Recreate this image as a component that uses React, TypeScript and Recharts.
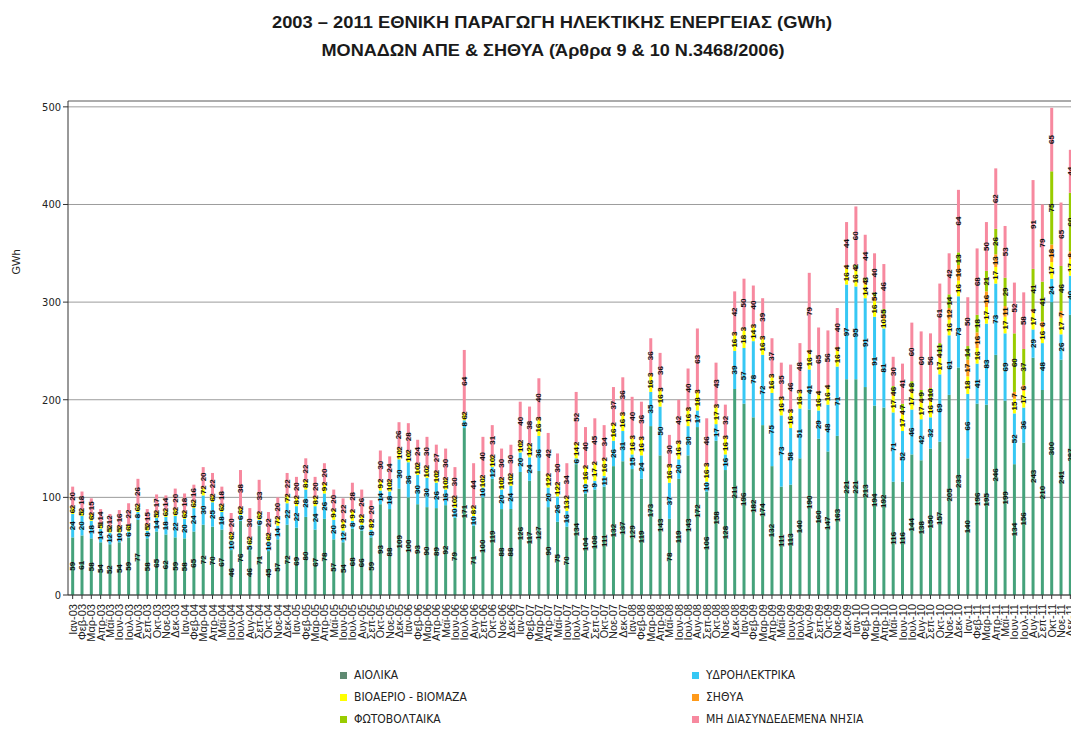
import React from "react";
import {
  BarChart,
  Bar,
  XAxis,
  YAxis,
  CartesianGrid,
  ReferenceLine,
  LabelList,
} from "recharts";

const monthNames = ["Ιαν", "Φεβ", "Μαρ", "Απρ", "Μαϊ", "Ιουν", "Ιουλ", "Αυγ", "Σεπ", "Οκτ", "Νοε", "Δεκ"];
const yearCodes = ["03", "04", "05", "06", "07", "08", "09", "10", "11"];

// GWh per month, Jan-03 .. Dec-11
const wind = [
  59, 61, 58, 54, 52, 54, 59, 77, 58, 65, 62, 59,
  58, 65, 72, 70, 67, 46, 76, 46, 71, 45, 57, 72,
  69, 80, 67, 78, 57, 54, 68, 66, 59, 93, 88, 109,
  100, 93, 90, 89, 92, 79, 171, 71, 100, 119, 88, 88,
  126, 117, 127, 90, 75, 70, 134, 104, 108, 111, 132, 137,
  129, 119, 173, 143, 78, 119, 143, 172, 106, 158, 128, 211,
  196, 182, 174, 132, 111, 113, 140, 190, 160, 147, 163, 221,
  221, 213, 194, 192, 116, 116, 144, 138, 150, 157, 205, 233,
  140, 196, 195, 246, 199, 134, 156, 243, 210, 300, 241, 287,
];
const hydro = [
  24, 20, 18, 14, 12, 10, 6, 8, 8, 14, 18, 22,
  20, 24, 30, 25, 18, 10, 6, 5, 6, 10, 14, 22,
  22, 28, 24, 26, 20, 12, 8, 6, 8, 14, 18, 30,
  36, 30, 30, 26, 16, 10, 8, 10, 10, 12, 20, 24,
  20, 24, 36, 20, 26, 16, 6, 10, 9, 11, 26, 31,
  15, 24, 35, 50, 37, 20, 30, 17, 10, 17, 16, 39,
  57, 78, 72, 75, 73, 58, 51, 41, 29, 48, 71, 97,
  95, 91, 91, 81, 71, 52, 46, 42, 32, 69, 61, 73,
  66, 41, 83, 73, 69, 52, 36, 29, 48, 24, 26, 40,
];
const biomass = [
  6, 5, 6, 5, 5, 5, 6, 6, 5, 5, 6, 6,
  6, 6, 7, 6, 6, 6, 6, 6, 6, 6, 7, 7,
  8, 8, 8, 9, 9, 9, 9, 8, 8, 9, 10, 10,
  10, 10, 10, 10, 10, 10, 6, 8, 10, 10, 10, 10,
  10, 12, 16, 12, 12, 13, 14, 16, 17, 16, 16, 16,
  16, 16, 16, 16, 16, 16, 16, 18, 16, 17, 16, 16,
  18, 14, 16, 16, 16, 16, 16, 16, 16, 16, 16, 16,
  16, 14, 16, 10, 17, 17, 17, 17, 16, 17, 16, 16,
  18, 16, 17, 17, 17, 15, 17, 17, 16, 17, 17, 17,
];
const chp = [
  2, 2, 2, 1, 2, 2, 1, 2, 2, 2, 2, 2,
  2, 2, 2, 2, 2, 2, 2, 2, 2, 2, 2, 2,
  2, 2, 2, 2, 2, 2, 2, 2, 2, 2, 2, 2,
  2, 2, 2, 2, 2, 2, 2, 2, 2, 2, 2, 2,
  2, 2, 3, 2, 2, 2, 2, 2, 2, 2, 2, 3,
  3, 3, 3, 3, 3, 3, 3, 3, 3, 3, 3, 3,
  3, 3, 3, 3, 3, 3, 3, 4, 4, 4, 4, 4,
  4, 4, 5, 5, 4, 4, 4, 4, 4, 4, 12, 16,
  17, 16, 16, 13, 11, 7, 6, 4, 6, 18, 7, 8,
];
const solar = [
  0, 0, 0, 0, 0, 0, 0, 0, 0, 0, 0, 0,
  0, 0, 0, 0, 0, 0, 0, 0, 0, 0, 0, 0,
  0, 0, 0, 0, 0, 0, 0, 0, 0, 0, 0, 0,
  0, 0, 0, 0, 0, 0, 0, 0, 0, 0, 0, 0,
  0, 0, 0, 0, 0, 0, 0, 0, 0, 0, 0, 0,
  0, 0, 0, 0, 0, 0, 0, 0, 0, 0, 0, 0,
  0, 0, 0, 0, 0, 0, 0, 0, 0, 0, 0, 0,
  2, 3, 4, 5, 6, 7, 8, 9, 10, 11, 14, 13,
  14, 18, 21, 26, 29, 60, 37, 41, 41, 75, 46, 60,
];
const islands = [
  20, 18, 15, 14, 12, 16, 22, 26, 15, 17, 14, 20,
  18, 16, 20, 22, 18, 20, 38, 30, 33, 22, 20, 22,
  20, 22, 20, 20, 20, 22, 28, 26, 20, 30, 24, 26,
  28, 24, 30, 27, 30, 30, 64, 44, 40, 31, 30, 30,
  40, 38, 40, 42, 30, 34, 52, 40, 45, 34, 37, 36,
  40, 36, 36, 36, 30, 42, 40, 63, 46, 43, 32, 42,
  50, 40, 39, 37, 35, 46, 48, 79, 65, 56, 40, 44,
  60, 44, 40, 46, 30, 41, 60, 60, 56, 61, 42, 64,
  50, 68, 50, 62, 53, 52, 58, 91, 79, 65, 65, 44,
];

const yTicks = [0, 100, 200, 300, 400, 500];

const series = [
  { key: "wind", name: "ΑΙΟΛΙΚΑ", color: "#45a27b" },
  { key: "hydro", name: "ΥΔΡΟΗΛΕΚΤΡΙΚΑ", color: "#36c8f4" },
  { key: "biomass", name: "ΒΙΟΑΕΡΙΟ - ΒΙΟΜΑΖΑ", color: "#ffff00" },
  { key: "chp", name: "ΣΗΘΥΑ", color: "#ff9a1a" },
  { key: "solar", name: "ΦΩΤΟΒΟΛΤΑΙΚΑ", color: "#99cc00" },
  { key: "islands", name: "ΜΗ ΔΙΑΣΥΝΔΕΔΕΜΕΝΑ ΝΗΣΙΑ", color: "#f7899f" },
];

const labels = yearCodes.flatMap((y) => monthNames.map((m) => `${m}-${y}`));
const data = labels.map((month, i) => ({
  month,
  wind: wind[i],
  hydro: hydro[i],
  biomass: biomass[i],
  chp: chp[i],
  solar: solar[i],
  islands: islands[i],
}));

const sans = "'Liberation Sans', Arial, sans-serif";
const narrow = "'Liberation Sans Narrow', 'DejaVu Sans Condensed', 'Liberation Sans', sans-serif";

const MonthTick = (props: any) => {
  const { x, y, payload } = props;
  const ty = y + 3;
  return (
    <text
      x={x}
      y={ty}
      transform={`rotate(-90 ${x} ${ty})`}
      textAnchor="end"
      dominantBaseline="central"
      fontSize={11}
      fontFamily={sans}
      fill="#222"
    >
      {payload.value}
    </text>
  );
};

const SegLabel = (props: any) => {
  const { x, y, width, height, value } = props;
  if (!value) return null;
  const cx = Number(x) + Number(width) / 2;
  const cy = Number(y) + Number(height) / 2;
  return (
    <text
      x={cx}
      y={cy}
      transform={`rotate(-90 ${cx} ${cy})`}
      textAnchor="middle"
      dominantBaseline="central"
      fontSize={8}
      fontWeight="bold"
      fontFamily={sans}
      fill="#111"
    >
      {value}
    </text>
  );
};

const legendRows = [
  [series[0], series[1]],
  [series[2], series[3]],
  [series[4], series[5]],
];

export default function App() {
  return (
    <div
      style={{
        position: "absolute",
        left: 0,
        top: 0,
        width: 1071,
        height: 731,
        overflow: "hidden",
        background: "#fff",
      }}
    >
      <svg width={1071} height={70} style={{ position: "absolute", left: 0, top: 0 }}>
        <text
          x={552}
          y={28}
          textAnchor="middle"
          fontSize={17}
          fontWeight="bold"
          fontFamily={sans}
          fill="#1a1a1a"
          textLength={560}
          lengthAdjust="spacingAndGlyphs"
        >
          2003 – 2011 ΕΘΝΙΚΗ ΠΑΡΑΓΩΓΗ ΗΛΕΚΤΙΚΗΣ ΕΝΕΡΓΕΙΑΣ (GWh)
        </text>
        <text
          x={553}
          y={56}
          textAnchor="middle"
          fontSize={17}
          fontWeight="bold"
          fontFamily={sans}
          fill="#1a1a1a"
          textLength={463}
          lengthAdjust="spacingAndGlyphs"
        >
          ΜΟΝΑΔΩΝ ΑΠΕ &amp; ΣΗΘΥΑ (Άρθρα 9 &amp; 10 Ν.3468/2006)
        </text>
      </svg>

      <div
        style={{
          position: "absolute",
          left: 16,
          top: 262,
          transform: "translate(-50%, -50%) rotate(-90deg)",
          fontFamily: sans,
          fontSize: 11,
          color: "#222",
        }}
      >
        GWh
      </div>

      <div style={{ position: "absolute", left: 0, top: 0 }}>
        <BarChart
          width={1080}
          height={655}
          data={data}
          margin={{ top: 101, right: 5, bottom: 0, left: 0 }}
          barCategoryGap="34%"
        >
          <CartesianGrid vertical={false} stroke="#9c9c9c" />
          <XAxis
            dataKey="month"
            interval={0}
            height={60}
            tick={<MonthTick />}
            tickSize={4}
            stroke="#333"
          />
          <YAxis
            width={68}
            domain={[0, 506]}
            ticks={yTicks}
            tickSize={5}
            stroke="#333"
            tick={{ fontSize: 11, fontFamily: narrow, fill: "#222" }}
          />
          <ReferenceLine y={506} stroke="#8a8a8a" />
          {series.map((s) => (
            <Bar
              key={s.key}
              dataKey={s.key}
              name={s.name}
              stackId="a"
              fill={s.color}
              isAnimationActive={false}
            >
              <LabelList dataKey={s.key} content={<SegLabel />} />
            </Bar>
          ))}
        </BarChart>
      </div>

      {legendRows.map((row, r) =>
        row.map((s, c) => (
          <div
            key={s.key}
            style={{
              position: "absolute",
              left: c === 0 ? 340 : 692,
              top: 668 + r * 22,
              height: 14,
              display: "flex",
              alignItems: "center",
              fontFamily: narrow,
              fontSize: 12,
              color: "#222",
            }}
          >
            <span
              style={{
                display: "inline-block",
                width: 7,
                height: 7,
                background: c === 0 && r === 0 ? "#5f8a72" : s.color,
                marginRight: 7,
              }}
            />
            {s.name}
          </div>
        ))
      )}
    </div>
  );
}
